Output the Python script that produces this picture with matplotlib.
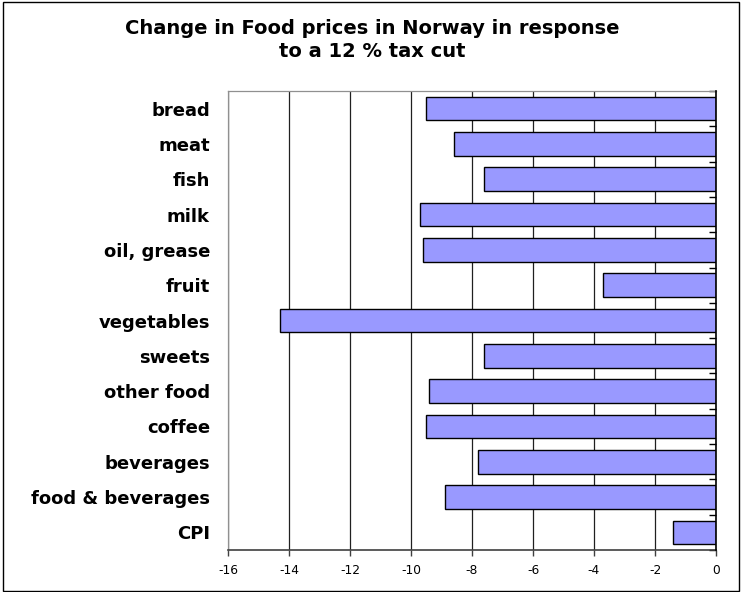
import matplotlib
matplotlib.use("Agg")
import matplotlib.pyplot as plt
from matplotlib.patches import Rectangle
import numpy as np

categories = ["bread", "meat", "fish", "milk", "oil, grease", "fruit", "vegetables",
              "sweets", "other food", "coffee", "beverages", "food & beverages", "CPI"]
values = [-9.5, -8.6, -7.6, -9.7, -9.6, -3.7, -14.3, -7.6, -9.4, -9.5, -7.8, -8.9, -1.4]
xticks = [-16, -14, -12, -10, -8, -6, -4, -2, 0]
title = "Change in Food prices in Norway in response\nto a 12 % tax cut"

plt.rcParams['font.family'] = ['DejaVu Sans']

W, H = 744, 592
fig = plt.figure(figsize=(W / 100, H / 100), dpi=100)
ax = fig.add_axes([228 / W, 1 - 550 / H, (716 - 228) / W, (550 - 91) / H])

n = len(categories)
y = np.arange(n)
ax.barh(y, values, height=0.667, color='#9999FF', edgecolor='black', linewidth=1, zorder=3)

ax.set_xlim(-16, 0)
ax.set_ylim(n - 0.5, -0.5)
ax.set_xticks(xticks)
ax.set_xticklabels([str(v) for v in xticks], fontsize=8.8)
ax.set_yticks(y)
ax.set_yticklabels(categories, fontsize=13, fontweight='bold')
ax.set_yticks(np.arange(n + 1) - 0.5, minor=True)
ax.tick_params(axis='y', which='major', length=0, pad=13)
ax.tick_params(axis='y', which='minor', left=False, right=True, direction='in', length=5,
               width=1, color='black')
ax.tick_params(axis='x', which='major', direction='out', length=4, width=1, color='#404040', pad=6)

ax.grid(axis='x', color='#202020', linewidth=0.9, zorder=0)
for s in ['left', 'top']:
    ax.spines[s].set_color('#909090')
    ax.spines[s].set_linewidth(0.9)
ax.spines['right'].set_color('black')
ax.spines['right'].set_linewidth(1.2)
ax.spines['right'].set_zorder(4)
ax.spines['bottom'].set_color('#404040')
ax.spines['bottom'].set_linewidth(1.2)

fig.text(0.5, 1 - 40 / H, title, ha='center', va='center', fontsize=14,
         fontweight='bold', linespacing=1.25)

fig.patches.append(Rectangle((3 / W, 1 / H), (739 - 3) / W, (590 - 1) / H,
                             transform=fig.transFigure, fill=False,
                             edgecolor='black', linewidth=1))

fig.savefig("out.png", dpi=100)
